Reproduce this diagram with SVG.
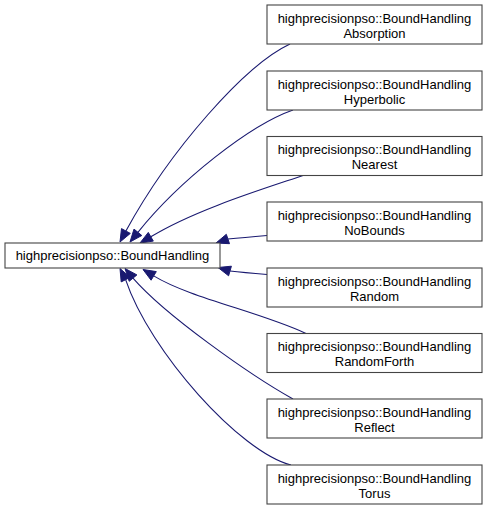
<svg xmlns="http://www.w3.org/2000/svg" width="488" height="509" viewBox="0 0 488 509">
<style>
.node rect{fill:#ffffff;stroke:#444444;stroke-width:1.1}
.node text{font-family:"Liberation Sans",Arial,sans-serif;font-size:13px;fill:#000000;text-anchor:middle}
.edge path{fill:none;stroke:#191970;stroke-width:1.1}
.edge polygon{fill:#191970;stroke:#191970;stroke-width:1}
</style>
<rect width="488" height="509" fill="#ffffff"/>
<g id="connectors">
<g class="edge" id="e-absorption"><path d="M290,44 C245,65 170,150 125.9,231"/><polygon points="120,242 130.3,233.4 121.5,228.6"/></g>
<g class="edge" id="e-hyperbolic"><path d="M293,110 C250,125 180,180 137.9,232.3"/><polygon points="130,242 141.8,235.5 134,229.1"/></g>
<g class="edge" id="e-nearest"><path d="M303,175.5 C260,190 195,210 150.8,236.75"/><polygon points="140,243 153.3,241.1 148.3,232.4"/></g>
<g class="edge" id="e-nobounds"><path d="M267,235.5 C255,236.5 243,237.5 227.9,239"/><polygon points="216,243 229.5,243.7 226.3,234.3"/></g>
<g class="edge" id="e-random"><path d="M267,274.5 C255,273.5 243,272.5 230,271"/><polygon points="218,267.5 228.6,275.8 231.4,266.2"/></g>
<g class="edge" id="e-randomforth"><path d="M306,333.5 C260,312 190,298 153.7,275.9"/><polygon points="143,269.5 156.3,271.6 151.1,280.2"/></g>
<g class="edge" id="e-reflect"><path d="M293,399 C250,375 165,315 133,278.1"/><polygon points="125,268.5 136.9,274.9 129.2,281.3"/></g>
<g class="edge" id="e-torus"><path d="M291,465 C240,452 150,352 125.6,279.6"/><polygon points="120,268.5 130.1,277.4 121.2,281.9"/></g>
</g>
<g class="node" id="n-base"><rect x="5" y="243" width="215" height="25"/><text x="112.5" y="260">highprecisionpso::BoundHandling</text></g>
<g class="node" id="n-absorption"><rect x="267" y="5" width="215" height="39"/><text x="374.5" y="22.5">highprecisionpso::BoundHandling</text><text x="374.5" y="37.5">Absorption</text></g>
<g class="node" id="n-hyperbolic"><rect x="267" y="71" width="215" height="39"/><text x="374.5" y="88.5">highprecisionpso::BoundHandling</text><text x="374.5" y="103.5">Hyperbolic</text></g>
<g class="node" id="n-nearest"><rect x="267" y="136.5" width="215" height="39"/><text x="374.5" y="154">highprecisionpso::BoundHandling</text><text x="374.5" y="169">Nearest</text></g>
<g class="node" id="n-nobounds"><rect x="267" y="202" width="215" height="39"/><text x="374.5" y="219.5">highprecisionpso::BoundHandling</text><text x="374.5" y="234.5">NoBounds</text></g>
<g class="node" id="n-random"><rect x="267" y="268" width="215" height="39"/><text x="374.5" y="285.5">highprecisionpso::BoundHandling</text><text x="374.5" y="300.5">Random</text></g>
<g class="node" id="n-randomforth"><rect x="267" y="333.5" width="215" height="39"/><text x="374.5" y="351">highprecisionpso::BoundHandling</text><text x="374.5" y="366">RandomForth</text></g>
<g class="node" id="n-reflect"><rect x="267" y="399" width="215" height="39"/><text x="374.5" y="416.5">highprecisionpso::BoundHandling</text><text x="374.5" y="431.5">Reflect</text></g>
<g class="node" id="n-torus"><rect x="267" y="465" width="215" height="39"/><text x="374.5" y="482.5">highprecisionpso::BoundHandling</text><text x="374.5" y="497.5">Torus</text></g>
</svg>
